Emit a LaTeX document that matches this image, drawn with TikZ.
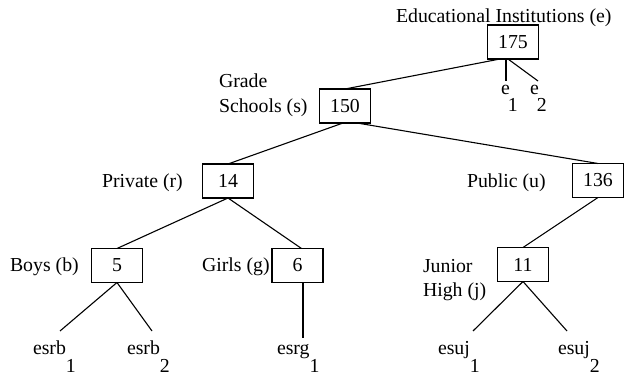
\documentclass[tikz,border=0pt]{standalone}
\usepackage{fontspec}
\setmainfont{Liberation Serif}
\newcommand{\subdrop}[1]{\raisebox{-18pt}{#1}}
\begin{document}
\begin{tikzpicture}[x=1pt,y=-1pt,
  every node/.style={font=\fontsize{19.8}{24}\selectfont, inner sep=0pt, outer sep=0pt},
  countbox/.style={draw, line width=1.1pt, minimum width=51pt, minimum height=34pt},
  lab/.style={anchor=base west},
  link/.style={line width=1.1pt}]
\useasboundingbox (0,0) rectangle (624,379);

% boxes
\node[countbox] (e) at (513,42) {175};
\node[countbox] (s) at (345,106) {150};
\node[countbox] (r) at (228,181) {14};
\node[countbox] (u) at (598,180.5) {136};
\node[countbox] (b) at (117,265.5) {5};
\node[countbox] (g) at (297.5,265.5) {6};
\node[countbox] (j) at (523,264.5) {11};

% labels
\node[lab] (le) at (396,23) {Educational Institutions (e)};
\node[lab] (ls1) at (219,88) {Grade};
\node[lab] (ls2) at (219,113) {Schools (s)};
\node[lab] (lr) at (102,187.5) {Private (r)};
\node[lab] (lu) at (467,187.5) {Public (u)};
\node[lab] (lb) at (10,272) {Boys (b)};
\node[lab] (lg) at (202,272) {Girls (g)};
\node[lab] (lj1) at (423,272.5) {Junior};
\node[lab] (lj2) at (423,297) {High (j)};

% leaves
\node[lab] (e1) at (501,95) {e\kern-2pt\raisebox{-17pt}{1}};
\node[lab] (e2) at (530,95) {e\kern-2pt\raisebox{-17pt}{2}};
\node[lab] (esrb1) at (33,355) {esrb\subdrop{1}};
\node[lab] (esrb2) at (127,355) {esrb\subdrop{2}};
\node[lab] (esrg1) at (277,355) {esrg\subdrop{1}};
\node[lab] (esuj1) at (438,355) {esuj\subdrop{1}};
\node[lab] (esuj2) at (558,355) {esuj\subdrop{2}};

% leaf line ends
\coordinate (ce1) at (506,81);
\coordinate (ce2) at (538,81);
\coordinate (cb1) at (60,331);
\coordinate (cb2) at (152,331);
\coordinate (cg1) at (303,338);
\coordinate (cj1) at (473,331);
\coordinate (cj2) at (567,331);

% connectors
\draw[link] ([xshift=-13pt]e.south) -- (s.north);
\draw[link] ([xshift=-7pt]e.south) -- (ce1);
\draw[link] ([xshift=-5pt]e.south) -- (ce2);
\draw[link] ([xshift=-2pt]s.south) -- (r.north);
\draw[link] ([xshift=12pt]s.south) -- (u.north);
\draw[link] (r.south) -- (b.north);
\draw[link] (r.south) -- ([xshift=4pt]g.north);
\draw[link] (u.south) -- (j.north);
\draw[link] (b.south) -- (cb1);
\draw[link] (b.south) -- (cb2);
\draw[link] ([xshift=5.5pt]g.south) -- (cg1);
\draw[link] (j.south) -- (cj1);
\draw[link] (j.south) -- (cj2);
\end{tikzpicture}
\end{document}
